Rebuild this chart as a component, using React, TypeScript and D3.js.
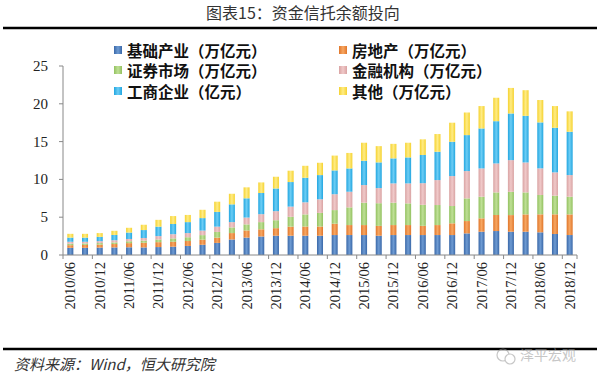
import React from 'react';
import * as d3 from 'd3';

const categories = [
  '2010/06','2010/09','2010/12',
  '2011/03','2011/06','2011/09','2011/12',
  '2012/03','2012/06','2012/09','2012/12',
  '2013/03','2013/06','2013/09','2013/12',
  '2014/03','2014/06','2014/09','2014/12',
  '2015/03','2015/06','2015/09','2015/12',
  '2016/03','2016/06','2016/09','2016/12',
  '2017/03','2017/06','2017/09','2017/12',
  '2018/03','2018/06','2018/09','2018/12',
];

const seriesNames = ['基础产业（万亿元）','房地产（万亿元）','证券市场（万亿元）','金融机构（万亿元）','工商企业（亿元）','其他（万亿元）'];

const infra = [0.95,0.95,0.98,1.00,1.02,1.00,1.05,1.10,1.20,1.35,1.60,2.05,2.30,2.45,2.55,2.55,2.55,2.55,2.64,2.64,2.64,2.55,2.64,2.64,2.64,2.64,2.64,2.86,3.08,3.17,3.08,3.08,3.00,2.78,2.64];
const realEstate = [0.35,0.38,0.40,0.45,0.55,0.62,0.65,0.65,0.65,0.68,0.70,0.85,0.95,0.95,1.00,1.20,1.22,1.22,1.50,1.32,1.32,1.30,1.32,1.32,1.22,1.32,1.55,1.63,1.77,2.12,2.20,2.29,2.38,2.60,2.73];
const securities = [0.20,0.20,0.20,0.22,0.25,0.28,0.35,0.45,0.50,0.60,0.75,0.75,0.80,0.95,1.05,1.30,1.60,1.80,1.80,2.34,2.96,3.00,2.96,2.87,2.78,2.65,2.29,3.00,2.86,2.99,3.08,2.91,2.56,2.47,2.34];
const financial = [0.25,0.22,0.25,0.28,0.30,0.35,0.45,0.55,0.55,0.60,0.70,0.70,0.90,1.05,1.20,1.35,1.60,1.80,2.10,2.07,2.33,2.00,2.55,2.64,2.86,3.30,3.96,3.61,3.74,3.83,4.19,3.96,3.52,3.08,2.86];
const industrial = [0.55,0.55,0.57,0.70,0.85,1.05,1.25,1.35,1.45,1.65,1.95,2.35,2.55,2.80,3.00,3.25,3.25,3.20,3.15,3.08,3.22,3.40,3.31,3.44,3.73,3.75,4.54,4.76,5.29,5.59,6.17,6.17,6.08,5.90,5.73];
const others = [0.50,0.50,0.50,0.55,0.63,0.70,0.90,1.05,0.95,1.10,1.35,1.40,1.45,1.40,1.55,1.50,1.58,1.63,1.96,2.05,2.38,2.15,1.92,1.94,2.07,2.34,2.52,2.99,2.96,3.10,3.38,3.39,2.96,2.87,2.70];

const yTicks = [0, 5, 10, 15, 20, 25];

const seriesData = [infra, realEstate, securities, financial, industrial, others];
const colors = [
  ['#3a68a8', '#6e9bd3'],
  ['#e0762a', '#f7a763'],
  ['#93c160', '#bfe096'],
  ['#d9a3a3', '#f0c9c9'],
  ['#22a6e0', '#6ccdf5'],
  ['#f5d230', '#ffec85'],
];

export default function App() {
  const W = 600, H = 381;
  const keys = seriesNames.map((_, i) => 's' + i);
  const rows = categories.map((c, j) => {
    const r: any = { cat: c };
    keys.forEach((k, i) => (r[k] = seriesData[i][j]));
    return r;
  });
  const stacked = d3.stack().keys(keys)(rows);

  const x0 = 63, x1 = 577;
  const pi = 0.59;
  const x = d3.scaleBand<string>().domain(categories).range([x0, x1]).paddingInner(pi).paddingOuter(pi / 2);
  const step = x.step();
  const y = d3.scaleLinear().domain([0, 25]).range([255, 66]);

  const serif = '"Liberation Serif", "Times New Roman", serif';
  const cjk = '"Noto Sans CJK SC", sans-serif';

  const legendPos = [
    [118, 50], [343, 50],
    [118, 70], [343, 70],
    [118, 91], [343, 91],
  ];

  return (
    <svg width={W} height={H} style={{ position: 'absolute', left: 0, top: 0, background: '#fff' }}>
      <defs>
        {colors.map((c, i) => (
          <linearGradient key={i} id={'g' + i} x1="0" x2="1" y1="0" y2="0">
            <stop offset="0" stopColor={c[0]} />
            <stop offset="0.5" stopColor={c[1]} />
            <stop offset="1" stopColor={c[0]} />
          </linearGradient>
        ))}
      </defs>
      <rect x={0} y={0} width={W} height={H} fill="#fff" />
      <text x={303} y={19} textAnchor="middle" fontFamily={cjk} fontSize={16} fill="#333">图表15：资金信托余额投向</text>
      <line x1={3} x2={597} y1={28} y2={28} stroke="#000" strokeWidth={2.5} />

      {/* legend */}
      {seriesNames.map((n, i) => (
        <g key={n}>
          <rect x={legendPos[i][0] - 4} y={legendPos[i][1] - 4} width={8} height={8} fill={`url(#g${i})`} />
          <text x={legendPos[i][0] + 9} y={legendPos[i][1]} dominantBaseline="central" fontFamily={cjk} fontWeight="bold" fontSize={15.5} fill="#111">{n}</text>
        </g>
      ))}

      {/* y axis */}
      <line x1={x0} x2={x0} y1={y(25)} y2={y(0)} stroke="#888" strokeWidth={1} />
      {yTicks.map(t => (
        <g key={t}>
          <line x1={x0 - 4} x2={x0} y1={y(t)} y2={y(t)} stroke="#888" />
          <text x={48} y={y(t)} dominantBaseline="central" textAnchor="end" fontFamily={serif} fontSize={15} fill="#222">{t}</text>
        </g>
      ))}

      {/* bars */}
      {stacked.map((s, i) => (
        <g key={i} fill={`url(#g${i})`}>
          {s.map((d: any, j: number) => (
            <rect key={j} x={x(categories[j])} y={y(d[1])} width={x.bandwidth()} height={Math.max(0, y(d[0]) - y(d[1]))} />
          ))}
        </g>
      ))}

      {/* x axis */}
      <line x1={x0} x2={x1} y1={y(0)} y2={y(0)} stroke="#888" />
      {categories.map((c, j) => (j % 2 === 0 ? (
        <g key={c}>
          <line x1={x0 + j * step} x2={x0 + j * step} y1={y(0)} y2={y(0) + 4} stroke="#888" />
          <text transform={`translate(${(x(c) as number) + x.bandwidth() / 2 + 5},${y(0) + 7}) rotate(-90)`} textAnchor="end" fontFamily={serif} fontSize={14.5} fill="#222">{c}</text>
        </g>
      ) : null))}
      <line x1={x1} x2={x1} y1={y(0)} y2={y(0) + 4} stroke="#888" />

      {/* footer */}
      <line x1={3} x2={597} y1={349} y2={349} stroke="#000" strokeWidth={2.5} />
      <text x={14} y={370} fontFamily={cjk} fontStyle="italic" fontSize={15} fill="#333">资料来源：Wind，恒大研究院</text>
      <g opacity={0.55}>
        <circle cx={503} cy={355} r={6} fill="none" stroke="#999" strokeWidth={1.2} />
        <circle cx={510} cy={359} r={5} fill="#fff" stroke="#999" strokeWidth={1.2} />
        <text x={520} y={360} fontFamily={cjk} fontSize={14} fill="#999">泽平宏观</text>
      </g>
    </svg>
  );
}
